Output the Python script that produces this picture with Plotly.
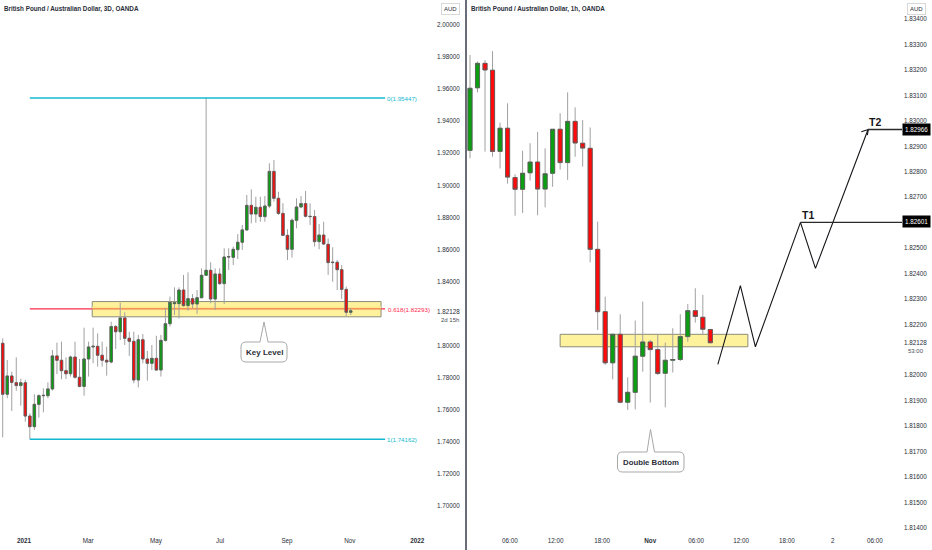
import plotly.graph_objects as go

W, H = 932, 550

# ---------- left chart (3D) ----------
d_open = [1.8015,1.7697,1.7811,1.7769,1.7751,1.7769,1.7561,1.7495,1.7634,1.7688,1.7688,1.7730,1.7936,1.7909,1.7844,1.7825,1.7929,1.7803,1.7746,1.7917,
          1.7992,1.7996,1.7940,1.7909,1.7898,1.8119,1.8087,1.8173,1.8046,1.8027,1.7786,1.8037,1.7917,1.7890,1.7921,1.7848,1.8033,1.8137,1.8262,1.8262,
          1.8347,1.8250,1.8293,1.8260,1.8299,1.8439,1.8470,1.8291,1.8447,1.8387,1.8553,1.8551,1.8599,1.8645,1.8722,1.8875,1.8821,1.8863,1.8805,1.8871,
          1.9087,1.8919,1.8825,1.8688,1.8601,1.8782,1.8865,1.8886,1.8807,1.8805,1.8649,1.8690,1.8632,1.8518,1.8520,1.8474,1.8351,1.8208]
d_high = [1.8046,1.7911,1.7838,1.7927,1.7794,1.7786,1.7578,1.7697,1.7697,1.7734,1.7771,1.7973,1.8019,1.8025,1.7927,1.7938,1.8025,1.7917,1.8112,1.8025,
          1.8112,1.8077,1.8025,1.7994,1.8150,1.8129,1.8268,1.8208,1.8087,1.8087,1.8067,1.8073,1.7967,1.8004,1.8062,1.8067,1.8237,1.8306,1.8364,1.8364,
          1.8441,1.8457,1.8322,1.8347,1.8482,1.9545,1.8520,1.8482,1.8482,1.8607,1.8607,1.8618,1.8696,1.8753,1.8940,1.8975,1.8929,1.8929,1.8933,1.9137,
          1.9158,1.8960,1.8888,1.8726,1.8794,1.8919,1.8933,1.8965,1.8888,1.8846,1.8759,1.8773,1.8669,1.8613,1.8534,1.8503,1.8368,1.8233]
d_low = [1.7428,1.7672,1.7593,1.7719,1.7626,1.7526,1.7416,1.7474,1.7551,1.7584,1.7672,1.7719,1.7823,1.7790,1.7792,1.7807,1.7794,1.7740,1.7688,1.7807,
         1.7890,1.7869,1.7869,1.7813,1.7890,1.7979,1.8035,1.8004,1.7936,1.7765,1.7740,1.7890,1.7782,1.7848,1.7844,1.7807,1.8025,1.8119,1.8191,1.8170,
         1.8243,1.8218,1.8233,1.8198,1.8295,1.8436,1.8264,1.8223,1.8379,1.8260,1.8472,1.8503,1.8541,1.8597,1.8715,1.8763,1.8767,1.8773,1.8773,1.8857,
         1.8898,1.8815,1.8684,1.8534,1.8549,1.8732,1.8857,1.8800,1.8753,1.8618,1.8601,1.8628,1.8441,1.8399,1.8347,1.8291,1.8185,1.8191]
d_close = [1.7697,1.7811,1.7771,1.7751,1.7769,1.7561,1.7495,1.7634,1.7688,1.7690,1.7730,1.7936,1.7909,1.7844,1.7825,1.7929,1.7803,1.7746,1.7917,1.7992,
           1.7996,1.7940,1.7909,1.7898,1.8119,1.8087,1.8173,1.8046,1.8027,1.7786,1.8037,1.7917,1.7890,1.7921,1.7848,1.8033,1.8137,1.8270,1.8268,1.8347,
           1.8250,1.8293,1.8260,1.8299,1.8439,1.8470,1.8291,1.8447,1.8387,1.8553,1.8555,1.8601,1.8645,1.8722,1.8875,1.8821,1.8863,1.8805,1.8871,1.9087,
           1.8919,1.8825,1.8688,1.8601,1.8782,1.8865,1.8886,1.8807,1.8805,1.8649,1.8690,1.8634,1.8518,1.8520,1.8474,1.8351,1.8208,1.8217]

fib_top = 1.95447
fib_mid = 1.82293
fib_bottom = 1.74162
key_zone = [1.8180, 1.8275]
key_band = [1.82293, 1.8245]
d_price_ticks = [2.0,1.98,1.96,1.94,1.92,1.90,1.88,1.86,1.84,1.82128,1.80,1.78,1.76,1.74,1.72,1.70]
d_time_pos = [4.7,18.9,33.9,48.1,62.9,76.8,91.7]
d_time_text = ["<b>2021</b>","Mar","May","Jul","Sep","Nov","<b>2022</b>"]

# ---------- right chart (1h) ----------
h_open = [1.82884,1.83130,1.83226,1.83199,1.82880,1.82971,1.82777,1.82731,1.82796,1.82838,1.82732,1.82794,1.82967,1.82836,1.82998,1.82912,1.82892,
          1.82495,1.82250,1.82049,1.82161,1.81894,1.81933,1.82075,1.82131,1.82101,1.82008,1.82059,1.82062,1.82152,1.82254,1.82228,1.82180]
h_high = [1.83259,1.83233,1.83239,1.83274,1.82993,1.83069,1.82790,1.82883,1.82912,1.82957,1.82892,1.82967,1.83030,1.83112,1.83053,1.83003,1.82974,
          1.82604,1.82309,1.82161,1.82240,1.81992,1.82215,1.82290,1.82139,1.82159,1.82128,1.82185,1.82240,1.82280,1.82342,1.82316,1.82181]
h_low = [1.82853,1.83112,1.82879,1.82859,1.82813,1.82753,1.82627,1.82638,1.82765,1.82629,1.82660,1.82741,1.82809,1.82768,1.82859,1.82820,1.82444,
         1.82178,1.82041,1.81984,1.81890,1.81864,1.81866,1.82014,1.81893,1.82001,1.81874,1.82011,1.82056,1.82132,1.82207,1.82159,1.82126]
h_close = [1.83128,1.83226,1.83200,1.82880,1.82971,1.82779,1.82731,1.82794,1.82838,1.82732,1.82792,1.82967,1.82836,1.82998,1.82913,1.82893,1.82495,
           1.82250,1.82049,1.82161,1.81894,1.81933,1.82075,1.82131,1.82101,1.82007,1.82059,1.82062,1.82152,1.82254,1.82231,1.82181,1.82128]

base_zone = [1.82112, 1.82161]
projection_x = [33, 36, 38, 44, 46, 53]
projection_y = [1.82043, 1.82352, 1.82112, 1.82601, 1.82420, 1.82966]
arrow_x = [52.1, 53.04, 52.9]
arrow_y = [1.82957, 1.82966, 1.82944]
t1_price = 1.82601
t2_price = 1.82966
h_price_ticks = [1.834,1.833,1.832,1.831,1.830,1.829,1.828,1.827,1.825,1.824,1.823,1.822,1.82128,1.820,1.819,1.818,1.817,1.816,1.815,1.814]
h_time_pos = [5.3,11.4,17.6,24,30.1,36.1,42.2,48.3,53.9]
h_time_text = ["06:00","12:00","18:00","<b>Nov</b>","06:00","12:00","18:00","2","06:00"]

GREEN, RED = "#0a9e10", "#ff0a0a"
WICK = "#a0a0a0"
EDGE = "#5c5c5c"
ZONE = "#fff29c"
ZONE_BAND = "#ffe98a"
ZONE_EDGE = "#8c8c78"
TEAL = "#12b8d0"
PINK = "#ff2a4d"
INNER = "#f2784b"
FONT = "Liberation Sans Narrow, Liberation Sans, Arial"
TXT = "#2a2e39"

def px(x): return x / W
def py(y): return 1 - y / H

def candle(o, hi, lo, c, xa, ya, line_color, width):
    return go.Candlestick(
        x=list(range(len(o))), open=o, high=hi, low=lo, close=c, xaxis=xa, yaxis=ya,
        increasing=dict(fillcolor=GREEN, line=dict(color=line_color, width=width)),
        decreasing=dict(fillcolor=RED, line=dict(color=line_color, width=width)),
        whiskerwidth=0, showlegend=False, hoverinfo="skip")

fig = go.Figure()
# wicks in light grey first, then the bodies with their darker outline on top
for o, hi, lo, c, xa, ya in ((d_open, d_high, d_low, d_close, "x", "y"), (h_open, h_high, h_low, h_close, "x2", "y2")):
    fig.add_trace(candle(o, hi, lo, c, xa, ya, WICK, 1))
    fig.add_trace(candle(o, [max(a, b) for a, b in zip(o, c)], [min(a, b) for a, b in zip(o, c)], c, xa, ya, EDGE, 0.8))
fig.add_trace(go.Scatter(x=projection_x, y=projection_y, mode="lines", xaxis="x2", yaxis="y2",
                         line=dict(color="#15161a", width=1.1), showlegend=False, hoverinfo="skip"))
fig.add_trace(go.Scatter(x=arrow_x, y=arrow_y, mode="lines", xaxis="x2", yaxis="y2",
                         line=dict(color="#15161a", width=1.1), showlegend=False, hoverinfo="skip"))

def callout(x0, x1, y0, y1, tip_x, tip_y, b0, b1, r=5):
    X, Y = px, py
    return (f"M {X(x0+r)},{Y(y0)} L {X(b0)},{Y(y0)} L {X(tip_x)},{Y(tip_y)} L {X(b1)},{Y(y0)} L {X(x1-r)},{Y(y0)} "
            f"Q {X(x1)},{Y(y0)} {X(x1)},{Y(y0+r)} L {X(x1)},{Y(y1-r)} Q {X(x1)},{Y(y1)} {X(x1-r)},{Y(y1)} "
            f"L {X(x0+r)},{Y(y1)} Q {X(x0)},{Y(y1)} {X(x0)},{Y(y1-r)} L {X(x0)},{Y(y0+r)} Q {X(x0)},{Y(y0)} {X(x0+r)},{Y(y0)} Z")

shapes = [
    dict(type="line", xref="x", yref="y", x0=6, x1=84.6, y0=fib_mid, y1=fib_mid, line=dict(color=PINK, width=1.3), layer="below"),
    dict(type="rect", xref="x", yref="y", x0=19.8, x1=83.7, y0=key_zone[0], y1=key_zone[1],
         fillcolor=ZONE, line=dict(color=ZONE_EDGE, width=1), layer="below"),
    dict(type="rect", xref="x", yref="y", x0=19.8, x1=83.7, y0=key_band[0], y1=key_band[1],
         fillcolor=ZONE_BAND, line=dict(width=0), layer="below"),
    dict(type="line", xref="x", yref="y", x0=19.8, x1=83.7, y0=fib_mid, y1=fib_mid, line=dict(color=INNER, width=1.1), layer="below"),
    dict(type="line", xref="x", yref="y", x0=6, x1=84.6, y0=fib_top, y1=fib_top, line=dict(color=TEAL, width=1.5)),
    dict(type="line", xref="x", yref="y", x0=6, x1=84.6, y0=fib_bottom, y1=fib_bottom, line=dict(color=TEAL, width=1.5)),
    dict(type="rect", xref="x2", yref="y2", x0=12, x1=37, y0=base_zone[0], y1=base_zone[1],
         fillcolor=ZONE, line=dict(color=ZONE_EDGE, width=1), layer="below"),
    dict(type="line", xref="x2", yref="y2", x0=44, x1=57.6, y0=t1_price, y1=t1_price, line=dict(color="#2a2a2a", width=1.3)),
    dict(type="line", xref="x2", yref="y2", x0=53, x1=57.6, y0=t2_price, y1=t2_price, line=dict(color="#2a2a2a", width=1.3)),
    dict(type="rect", xref="paper", yref="paper", x0=px(465), x1=px(467), y0=0, y1=1,
         fillcolor="#6a6d78", line=dict(width=0)),
    dict(type="path", xref="paper", yref="paper", path=callout(241, 287, 342, 362, 264, 322, 260, 268),
         fillcolor="white", line=dict(color="#a8a8a8", width=1)),
    dict(type="path", xref="paper", yref="paper", path=callout(617.5, 684, 452, 472, 650.5, 429.5, 647, 654.5),
         fillcolor="white", line=dict(color="#a8a8a8", width=1)),
]

def note(x, y, text, size=7, color=TXT, anchor="center", **kw):
    return dict(xref="paper", yref="paper", x=px(x), y=py(y), text=text, showarrow=False,
                xanchor=anchor, yanchor="middle", font=dict(family=FONT, size=size, color=color),
                borderpad=kw.pop("borderpad", 0), **kw)

annotations = [
    note(3, 8.5, "<b>British Pound / Australian Dollar, 3D, OANDA</b>", 6.3, anchor="left"),
    note(470, 8.5, "<b>British Pound / Australian Dollar, 1h, OANDA</b>", 6.3, anchor="left"),
    note(450, 8.5, "AUD", 6, bordercolor="#d8d8d8", borderwidth=1, borderpad=2),
    note(916, 8.5, "AUD", 6, bordercolor="#d8d8d8", borderwidth=1, borderpad=2),
    note(386, 98, "0(1.95447)", 6.2, TEAL, "left"),
    note(387, 309, "0.618(1.82293)", 6.2, PINK, "left"),
    note(386, 439, "1(1.74162)", 6.2, TEAL, "left"),
    note(440, 319.5, "2d 15h", 6, "#4a4e59", "left"),
    note(907, 350.5, "53:00", 6, "#4a4e59", "left"),
    note(264, 352, "<b>Key Level</b>", 8),
    note(650.5, 462, "<b>Double Bottom</b>", 7.8),
    note(807.5, 215, "<b>T1</b>", 10.5, "#15161a"),
    note(875, 121.5, "<b>T2</b>", 10.5, "#15161a"),
    note(916, 129, "1.82966", 6.3, "white", bgcolor="#000000", borderpad=2),
    note(916, 222, "1.82601", 6.3, "white", bgcolor="#000000", borderpad=2),
]

tick_font = dict(family=FONT, size=6.3, color=TXT)
fig.update_layout(
    width=W, height=H, autosize=False, margin=dict(l=0, r=0, t=0, b=0),
    paper_bgcolor="white", plot_bgcolor="white", boxgap=0.22,
    shapes=shapes, annotations=annotations,
    xaxis=dict(domain=[0, 436/W], range=[-0.6, 95.86], showgrid=False, zeroline=False, showline=False,
               rangeslider=dict(visible=False), tickmode="array", tickvals=d_time_pos, ticktext=d_time_text,
               ticks="", tickfont=tick_font, anchor="y", ticklabelstandoff=4),
    yaxis=dict(domain=[18/H, 1], range=[1.68378, 2.01559], side="right", anchor="x", showgrid=False, zeroline=False,
               showline=False, tickmode="array", tickvals=d_price_ticks, ticktext=[f"{v:.5f}" for v in d_price_ticks],
               ticks="", tickfont=tick_font),
    xaxis2=dict(domain=[467/W, 902/W], range=[-0.4, 57.52], showgrid=False, zeroline=False, showline=False,
                rangeslider=dict(visible=False), tickmode="array", tickvals=h_time_pos, ticktext=h_time_text,
                ticks="", tickfont=tick_font, anchor="y2", ticklabelstandoff=4),
    yaxis2=dict(domain=[18/H, 1], range=[1.81384, 1.83475], side="right", anchor="x2", showgrid=False, zeroline=False,
                showline=False, tickmode="array", tickvals=h_price_ticks, ticktext=[f"{v:.5f}" for v in h_price_ticks],
                ticks="", tickfont=tick_font, ticklabelstandoff=1),
)
fig.write_html("out.html", config=dict(displayModeBar=False),
               post_script="document.body.style.margin='0';document.documentElement.style.overflow='hidden';")
